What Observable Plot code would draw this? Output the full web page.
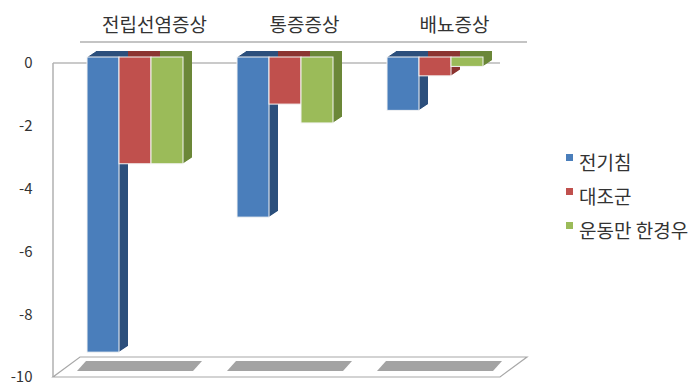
<!DOCTYPE html>
<html><head><meta charset="utf-8">
<script src="https://cdn.jsdelivr.net/npm/d3@7"></script>
<script src="https://cdn.jsdelivr.net/npm/@observablehq/plot@0.6"></script>
<style>
body{margin:0;background:#fff;font-family:"Noto Sans CJK KR","Noto Sans",sans-serif;}
#wrap{position:relative;width:690px;height:390px;overflow:hidden;}
#legend{position:absolute;left:566px;top:144px;font-size:19px;color:#333;}
.item{display:flex;align-items:center;height:34px;white-space:nowrap;}
.sw{width:7px;height:7px;margin-right:6px;margin-top:-8px;flex:none;}
</style></head><body><div id="wrap"><div id="legend"></div></div>
<script>
const categories = ["전립선염증상", "통증증상", "배뇨증상"];
const seriesNames = ["전기침", "대조군", "운동만 한경우"];
const electroAcupuncture = [-9.4, -5.1, -1.7];
const controlGroup = [-3.4, -1.5, -0.6];
const exerciseOnly = [-3.4, -2.1, -0.3];
const tickValues = [0, -2, -4, -6, -8, -10];
const frontColors = ["#4A7EBB", "#C0504D", "#9BBB59"];
const sideColors = ["#2C4F7C", "#8B3431", "#6B8738"];

const seriesValues = [electroAcupuncture, controlGroup, exerciseOnly];
const rows = [];
categories.forEach((c, i) => seriesNames.forEach((s, j) => rows.push({category: c, series: s, value: seriesValues[j][i], side: sideColors[j]})));

// depth steps for the pseudo-3D extrusion (pixel offsets only, no data)
const depth = d3.range(1, 10).map(k => [k, -6 - k * 6 / 9]);

const plot = Plot.plot({
  width: 690, height: 390,
  marginTop: 63, marginBottom: 13, marginLeft: 60, marginRight: 180,
  style: {fontFamily: '"Noto Sans CJK KR","Noto Sans",sans-serif', fontSize: "15px", color: "#333", background: "white"},
  fx: {domain: categories, axis: null, padding: 0, label: null},
  x: {domain: seriesNames, axis: null, paddingInner: 0, paddingOuter: 0.8},
  y: {domain: [-10, 0], ticks: tickValues, tickSize: 0, tickPadding: 28, label: null, tickFormat: d => String(d)},
  color: {domain: seriesNames, range: frontColors},
  marks: [
    ...depth.map(([dx, dy]) => Plot.barY(rows, {fx: "category", x: "series", y: "value", fill: "side", dx, dy})),
    Plot.barY(rows, {fx: "category", x: "series", y: "value", fill: "series", stroke: "#f4f4f4", strokeWidth: 1, dy: -6}),
    Plot.text(categories, {fx: d => d, text: d => d, frameAnchor: "top", dy: -45, dx: 19, fontSize: 19, fill: "#333"})
  ]
});
document.getElementById("wrap").appendChild(plot);

// decorative 3D frame derived from the plot's scales
const fxD = plot.scale("fx"), yD = plot.scale("y");
const fxs = d3.scaleBand().domain(fxD.domain).range(fxD.range).paddingInner(fxD.paddingInner || 0).paddingOuter(fxD.paddingOuter || 0).align(fxD.align ?? 0.5);
const ys = d3.scaleLinear().domain(yD.domain).range(yD.range);
const x0 = Math.min(...fxD.range), x1 = Math.max(...fxD.range);
const yFloor = ys(-10), yTop = ys(0);
const g = d3.create("svg:g");
g.append("line").attr("x1", x0 - 7).attr("x2", x1 - 10).attr("y1", yTop).attr("y2", yTop).attr("stroke", "#b8b8b8").attr("stroke-width", 1.5);
g.append("line").attr("x1", x0 - 7).attr("x2", x0 - 7).attr("y1", yTop).attr("y2", yFloor).attr("stroke", "#b0b0b0").attr("stroke-width", 1.5);
g.append("line").attr("x1", x0 + 20).attr("x2", x1 + 17).attr("y1", yTop - 21).attr("y2", yTop - 21).attr("stroke", "#b0b0b0").attr("stroke-width", 1.5);
g.append("path").attr("d", `M${x0 - 7},${yFloor}L${x1 - 10},${yFloor}L${x1 + 17},${yFloor - 20}L${x0 + 20},${yFloor - 20}Z`).attr("fill", "none").attr("stroke", "#a8a8a8").attr("stroke-width", 1.2);
categories.forEach(c => {
  const b = fxs(c);
  g.append("path").attr("d", `M${b + 17},${yFloor - 6}L${b + 133},${yFloor - 6}L${b + 142},${yFloor - 16}L${b + 26},${yFloor - 16}Z`).attr("fill", "#a3a3a3");
});
const styleEl = plot.querySelector("style");
plot.insertBefore(g.node(), styleEl ? styleEl.nextSibling : plot.firstChild);

// legend
const legend = document.getElementById("legend");
seriesNames.forEach((s, j) => {
  const it = document.createElement("div"); it.className = "item";
  const sw = document.createElement("span"); sw.className = "sw"; sw.style.background = frontColors[j];
  const t = document.createElement("span"); t.textContent = s;
  it.appendChild(sw); it.appendChild(t); legend.appendChild(it);
});
</script></body></html>
